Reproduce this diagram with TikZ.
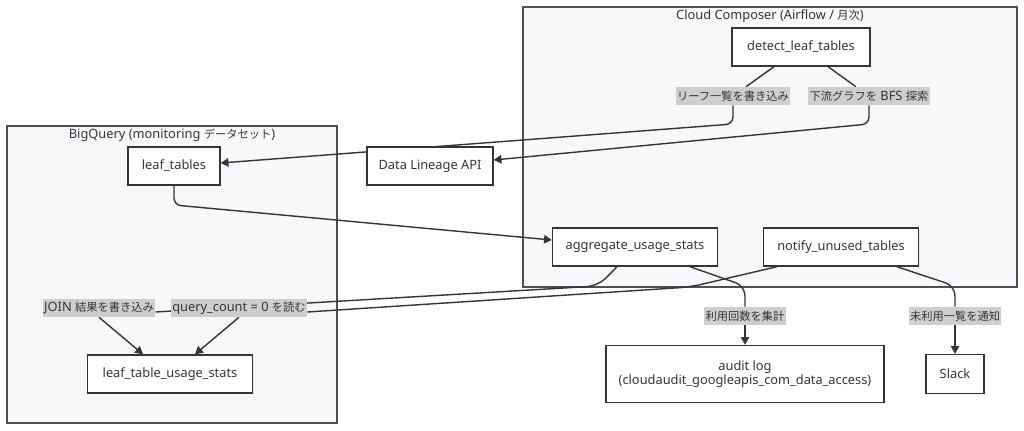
\documentclass[tikz,border=0pt]{standalone}
\usepackage{fontspec}
\setmainfont{Noto Sans}[Scale=1.14]
\newfontfamily\jp{Noto Sans CJK JP}
\usepackage{tikz}
\usetikzlibrary{calc,arrows.meta,shadows}
\usepackage{xcolor}
\definecolor{ink}{RGB}{52,52,58}
\definecolor{frame}{RGB}{78,78,88}
\definecolor{zone}{RGB}{248,248,251}
\definecolor{tag}{RGB}{206,206,206}
\pgfdeclarelayer{back}
\pgfdeclarelayer{mid}
\pgfsetlayers{back,mid,main}
\tikzset{
  fzone/.style={draw=frame,fill=zone,line width=1.1pt},
  ftitle/.style={text=ink,font=\fontsize{8}{10}\selectfont},
  fbox/.style={draw=ink,fill=white,line width=1pt,text=ink,
    font=\fontsize{8}{10}\selectfont,minimum height=0.95cm,inner sep=2pt,
    drop shadow={opacity=0.12,shadow xshift=1pt,shadow yshift=-1pt}},
  ftag/.style={fill=tag,text=ink,font=\fontsize{8}{10}\selectfont,
    inner xsep=1pt,inner ysep=0pt,minimum height=0.45cm},
  fline/.style={ink,line width=1pt},
  farr/.style={fline,-{Triangle[length=5.5pt,width=6pt]}},
}

\begin{document}
\begin{tikzpicture}[x=0.025cm,y=-0.025cm]
  \useasboundingbox (0,0) rectangle (1024,431);
  % clusters
  \begin{pgfonlayer}{back}
    \draw[fzone] (523,7) rectangle (1017,287);
    \draw[fzone] (7,126) rectangle (337,423);
  \end{pgfonlayer}
  \node[ftitle] (composerT) at (770,16) {Cloud Composer (Airflow / {\jp 月次})};
  \node[ftitle] (bigqueryT) at (172,135) {BigQuery (monitoring {\jp データセット})};
  % nodes
  \node[fbox,minimum width=3.45cm] (detect) at (801,47) {detect\_leaf\_tables};
  \node[fbox,minimum width=2.3cm] (leaf) at (174,166) {leaf\_tables};
  \node[fbox,minimum width=3.15cm] (lineage) at (430,166) {Data Lineage API};
  \node[fbox,minimum width=4.125cm] (agg) at (635,247) {aggregate\_usage\_stats};
  \node[fbox,minimum width=3.875cm] (notify) at (841,247) {notify\_unused\_tables};
  \node[fbox,minimum width=4.125cm] (usage) at (170,374) {leaf\_table\_usage\_stats};
  \node[fbox,minimum width=6.95cm,minimum height=1.425cm,align=center] (audit) at (745,374)
    {audit log\\(cloudaudit\_googleapis\_com\_data\_access)};
  \node[fbox,minimum width=1.45cm,minimum height=0.975cm] (slack) at (955,374) {Slack};
  % edge labels
  \node[ftag] (wlist) at (733,96) {\jp リーフ一覧を書き込み};
  \node[ftag] (bfs) at (869,96) {{\jp 下流グラフを} BFS {\jp 探索}};
  \node[ftag] (join) at (99,308) {JOIN {\jp 結果を書き込み}};
  \node[ftag] (qry) at (239,308) {query\_count = 0 {\jp を読む}};
  \node[ftag] (cnt) at (745,316) {\jp 利用回数を集計};
  \node[ftag] (notif) at (955,316) {\jp 未利用一覧を通知};
  % connectors
  \begin{pgfonlayer}{mid}
    \draw[fline] ($(detect.south)+(-27,0)$) -- (wlist);
    \draw[farr,rounded corners=5] (wlist.south) -- (733,124) -- ($(leaf.east)+(0,-3)$);
    \draw[fline] ($(detect.south)+(27,0)$) -- (bfs);
    \draw[farr,rounded corners=5] (bfs.south) -- (869,124) -- ($(lineage.east)+(0,-6)$);
    \draw[farr,rounded corners=5] (leaf.south) -- (174,205) -- ($(agg.west)+(0,-7)$);
    \draw[fline,rounded corners=7] ($(agg.south)+(55,0)$) -- (745,286) -- (cnt);
    \draw[farr] (cnt.south) -- (audit.north);
    \draw[fline,rounded corners=7] ($(notify.south)+(56,0)$) -- (955,286) -- (notif);
    \draw[farr] (notif.south) -- (slack.north);
    \draw[fline,rounded corners=8] ($(agg.south)+(-18,0)$) -- (598,286) -- ($(join.east)+(0,4)$);
    \draw[fline,rounded corners=8] ($(notify.south)+(-64,0)$) -- (690,287) -- ($(qry.east)+(0,4)$);
    \draw[farr] (join.south) -- ($(usage.north)+(-27,0)$);
    \draw[farr] (qry.south) -- ($(usage.north)+(25,0)$);
  \end{pgfonlayer}
\end{tikzpicture}
\end{document}
